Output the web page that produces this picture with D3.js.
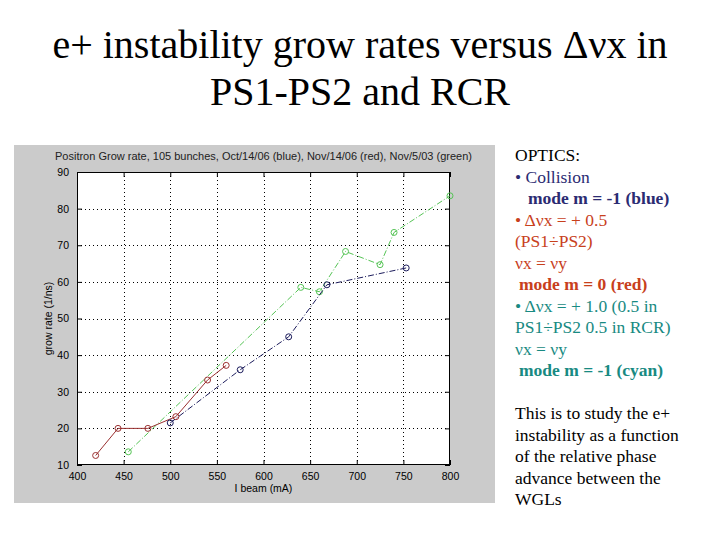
<!DOCTYPE html>
<html><head><meta charset="utf-8">
<script src="https://cdn.jsdelivr.net/npm/d3@7"></script>
<style>
html,body{margin:0;padding:0;background:#fff;}
svg{display:block;}
</style></head>
<body>
<svg id="c" width="720" height="540"></svg>
<script>
// ---------- data ----------
const xTicks = [400, 450, 500, 550, 600, 650, 700, 750, 800];
const yTicks = [10, 20, 30, 40, 50, 60, 70, 80, 90];
const blueX = [500, 575, 627, 668, 753];
const blueY = [21.5, 36, 45, 59.2, 63.8];
const redX = [420, 444, 476, 506, 540, 560];
const redY = [12.6, 20, 20, 23.2, 33.2, 37.2];
const greenX = [455, 640, 660, 688, 725, 740, 800];
const greenY = [13.6, 58.5, 57.3, 68.3, 64.7, 73.5, 83.5];
const plotTitle = "Positron Grow rate, 105 bunches, Oct/14/06 (blue), Nov/14/06 (red), Nov/5/03 (green)";
const titleLines = ["e+ instability grow rates versus \u0394\u03bdx in", "PS1-PS2 and RCR"];
const opticsLines = [
  {t: "OPTICS:", c: "#000000", w: "normal", x: 0},
  {t: "\u2022 Collision", c: "#2b2b72", w: "normal", x: 0},
  {t: "mode m = -1 (blue)", c: "#2b2b72", w: "bold", x: 13},
  {t: "\u2022 \u0394\u03bdx = + 0.5", c: "#c8401c", w: "normal", x: 0},
  {t: "(PS1\u00f7PS2)", c: "#c8401c", w: "normal", x: 0},
  {t: "\u03bdx = \u03bdy", c: "#c8401c", w: "normal", x: 0},
  {t: "mode m = 0 (red)", c: "#c8401c", w: "bold", x: 4},
  {t: "\u2022 \u0394\u03bdx = + 1.0 (0.5 in", c: "#188a82", w: "normal", x: 0},
  {t: "PS1\u00f7PS2 0.5 in RCR)", c: "#188a82", w: "normal", x: 0},
  {t: "\u03bdx = \u03bdy", c: "#188a82", w: "normal", x: 0},
  {t: "mode m = -1 (cyan)", c: "#188a82", w: "bold", x: 4}
];
const noteLines = ["This is to study the e+", "instability as a function", "of the relative phase", "advance between the", "WGLs"];

// ---------- drawing ----------
const svg = d3.select("#c");
const serif = "'Liberation Serif','Times New Roman',serif";
const sans = "'Liberation Sans',Arial,sans-serif";

// slide title
svg.append("g").selectAll("text").data(titleLines).join("text")
  .attr("x", 360).attr("y", (d, i) => 58 + i * 47)
  .attr("text-anchor", "middle")
  .attr("font-family", serif).attr("font-size", 40)
  .attr("fill", "#000").text(d => d);

// gray figure panel
svg.append("rect").attr("x", 14).attr("y", 145).attr("width", 481).attr("height", 358).attr("fill", "#cbcbcb");

const L = 77, R = 450, T = 172, B = 465;
const x = d3.scaleLinear().domain([400, 800]).range([L, R]);
const y = d3.scaleLinear().domain([10, 90]).range([B, T]);

svg.append("rect").attr("x", L).attr("y", T).attr("width", R - L).attr("height", B - T).attr("fill", "#fff");

// grid
const grid = svg.append("g").attr("stroke", "#000").attr("stroke-width", 1).attr("stroke-dasharray", "1,3");
grid.selectAll(".gx").data(xTicks.slice(1, -1)).join("line")
  .attr("x1", d => Math.round(x(d)) + 0.5).attr("x2", d => Math.round(x(d)) + 0.5)
  .attr("y1", T).attr("y2", B);
grid.selectAll(".gy").data(yTicks.slice(1, -1)).join("line")
  .attr("y1", d => Math.round(y(d)) + 0.5).attr("y2", d => Math.round(y(d)) + 0.5)
  .attr("x1", L).attr("x2", R);

// axes (ticks inside)
const axB = d3.axisBottom(x).tickValues(xTicks).tickSize(-5).tickPadding(8).tickFormat(d3.format("d"));
const axL = d3.axisLeft(y).tickValues(yTicks).tickSize(-5).tickPadding(8).tickFormat(d3.format("d"));
const axT = d3.axisTop(x).tickValues(xTicks).tickSize(-5).tickFormat("");
const axR = d3.axisRight(y).tickValues(yTicks).tickSize(-5).tickFormat("");
function styleAxis(g) {
  g.select(".domain").remove();
  g.selectAll("line").attr("stroke", "#000");
  g.selectAll("text").attr("font-family", sans).attr("font-size", 10.5).attr("fill", "#000");
}
svg.append("g").attr("transform", `translate(0,${B})`).call(axB).call(styleAxis);
svg.append("g").attr("transform", `translate(${L},0)`).call(axL).call(styleAxis);
svg.append("g").attr("transform", `translate(0,${T})`).call(axT).call(styleAxis);
svg.append("g").attr("transform", `translate(${R},0)`).call(axR).call(styleAxis);

svg.append("rect").attr("x", L + 0.5).attr("y", T + 0.5).attr("width", R - L - 1).attr("height", B - T - 1)
  .attr("fill", "none").attr("stroke", "#000").attr("stroke-width", 1);

// series
const series = [
  {xs: greenX, ys: greenY, c: "#55c455", dash: "6,2,1,2", w: 1},
  {xs: redX, ys: redY, c: "#9a3030", dash: null, w: 1},
  {xs: blueX, ys: blueY, c: "#1c1c5c", dash: "6,2,1,2", w: 1}
];
const line = d3.line().x(d => x(d[0])).y(d => y(d[1]));
series.forEach(s => {
  const pts = s.xs.map((v, i) => [v, s.ys[i]]);
  svg.append("path").datum(pts).attr("d", line)
    .attr("fill", "none").attr("stroke", s.c).attr("stroke-width", s.w)
    .attr("stroke-dasharray", s.dash);
  svg.append("g").selectAll("circle").data(pts).join("circle")
    .attr("cx", d => x(d[0])).attr("cy", d => y(d[1])).attr("r", 3)
    .attr("fill", "none").attr("stroke", s.c).attr("stroke-width", 1);
});

// plot titles / labels
svg.append("text").attr("x", (L + R) / 2).attr("y", 160).attr("text-anchor", "middle")
  .attr("font-family", sans).attr("font-size", 11).attr("fill", "#222").text(plotTitle);
svg.append("text").attr("x", (L + R) / 2).attr("y", 492).attr("text-anchor", "middle")
  .attr("font-family", sans).attr("font-size", 10.5).attr("fill", "#000").text("I beam (mA)");
svg.append("text").attr("transform", `translate(52,${(T + B) / 2}) rotate(-90)`).attr("text-anchor", "middle")
  .attr("font-family", sans).attr("font-size", 10.5).attr("fill", "#000").text("grow rate (1/ns)");

// right text
svg.append("g").selectAll("text").data(opticsLines).join("text")
  .attr("x", d => 515 + d.x).attr("y", (d, i) => 161 + i * 21.5)
  .attr("font-family", serif).attr("font-size", 17.5)
  .attr("font-weight", d => d.w).attr("fill", d => d.c).text(d => d.t);

svg.append("g").selectAll("text").data(noteLines).join("text")
  .attr("x", 515).attr("y", (d, i) => 419 + i * 21.5)
  .attr("font-family", serif).attr("font-size", 17.5)
  .attr("fill", "#000").text(d => d);
</script>
</body></html>
